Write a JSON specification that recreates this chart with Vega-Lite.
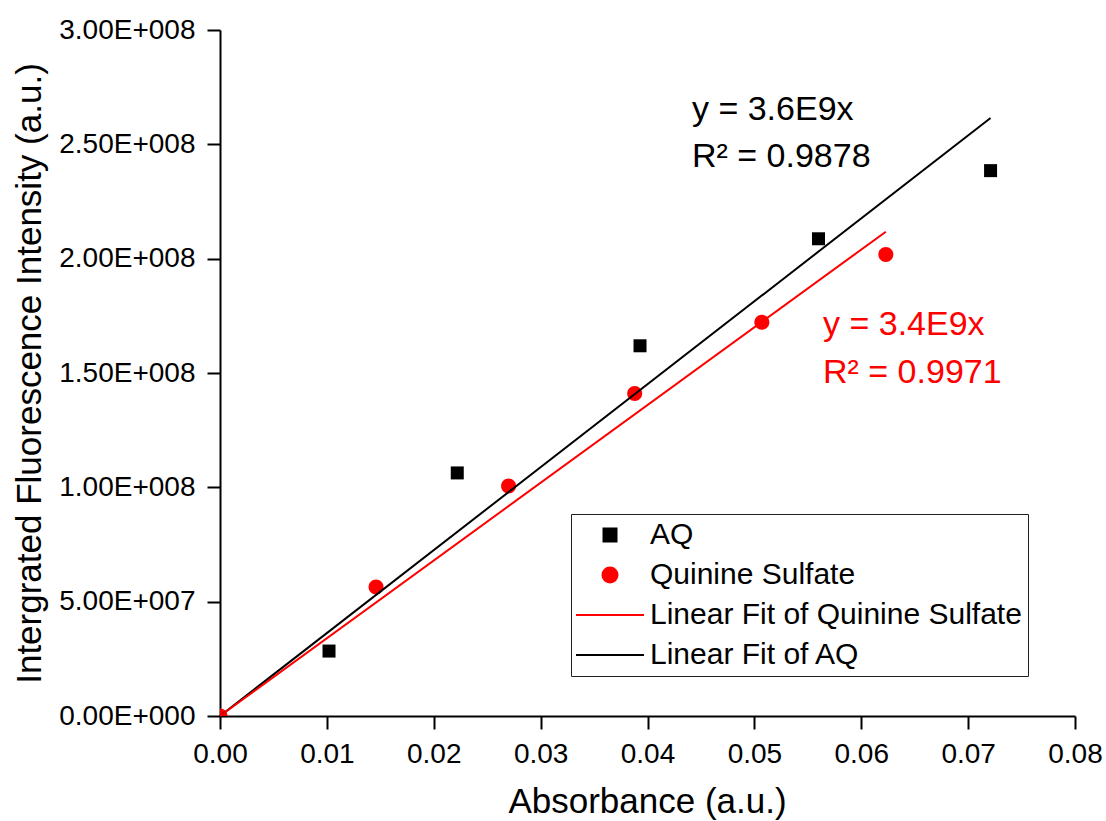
{
  "$schema": "https://vega.github.io/schema/vega-lite/v6.json",
  "width": 855,
  "height": 686,
  "autosize": {"type": "none"},
  "padding": {"left": 220, "top": 30, "right": 31, "bottom": 105},
  "background": "white",
  "datasets": {
    "points": [
      {"series": "AQ", "absorbance": 0.0102, "intensity": 28400000},
      {"series": "AQ", "absorbance": 0.0222, "intensity": 106300000},
      {"series": "AQ", "absorbance": 0.0393, "intensity": 161900000},
      {"series": "AQ", "absorbance": 0.0560, "intensity": 208700000},
      {"series": "AQ", "absorbance": 0.0721, "intensity": 238500000},
      {"series": "Quinine Sulfate", "absorbance": 0.0, "intensity": 0},
      {"series": "Quinine Sulfate", "absorbance": 0.0146, "intensity": 56400000},
      {"series": "Quinine Sulfate", "absorbance": 0.0270, "intensity": 100600000},
      {"series": "Quinine Sulfate", "absorbance": 0.0388, "intensity": 141000000},
      {"series": "Quinine Sulfate", "absorbance": 0.0507, "intensity": 172200000},
      {"series": "Quinine Sulfate", "absorbance": 0.0623, "intensity": 201800000}
    ],
    "fits": [
      {"series": "Linear Fit of AQ", "absorbance": 0.0, "intensity": 0},
      {"series": "Linear Fit of AQ", "absorbance": 0.0721, "intensity": 261500000},
      {"series": "Linear Fit of Quinine Sulfate", "absorbance": 0.0, "intensity": 0},
      {"series": "Linear Fit of Quinine Sulfate", "absorbance": 0.0623, "intensity": 211800000}
    ],
    "notes": [
      {"fit": "AQ", "line1": "y = 3.6E9x", "line2": "R² = 0.9878", "x": 0.04416, "y1": 260600000, "y2": 240100000},
      {"fit": "Quinine Sulfate", "line1": "y = 3.4E9x", "line2": "R² = 0.9971", "x": 0.05642, "y1": 166600000, "y2": 145600000}
    ]
  },
  "layer": [
    {
      "data": {"name": "points"},
      "mark": {"type": "point", "filled": true, "opacity": 1, "size": 100, "clip": true},
      "encoding": {
        "x": {
          "field": "absorbance", "type": "quantitative",
          "scale": {"domain": [0, 0.08], "nice": false, "zero": false},
          "axis": {
            "title": "Absorbance (a.u.)",
            "values": [0, 0.01, 0.02, 0.03, 0.04, 0.05, 0.06, 0.07, 0.08],
            "format": ".2f",
            "labelPadding": 11,
            "titleX": 427, "titleY": 96, "titleAlign": "center", "titleBaseline": "alphabetic", "titleAngle": 0
          }
        },
        "y": {
          "field": "intensity", "type": "quantitative",
          "scale": {"domain": [0, 300000000], "nice": false},
          "axis": {
            "title": "Intergrated Fluorescence Intensity (a.u.)",
            "values": [0, 50000000, 100000000, 150000000, 200000000, 250000000, 300000000],
            "labelExpr": "datum.value == 0 ? '0.00E+000' : (datum.value < 100000000 ? format(datum.value / 10000000, '.2f') + 'E+007' : format(datum.value / 100000000, '.2f') + 'E+008')",
            "labelPadding": 12,
            "titleX": -180, "titleY": 343, "titleAlign": "center", "titleBaseline": "alphabetic", "titleAngle": -90
          }
        },
        "color": {
          "field": "series", "type": "nominal",
          "scale": {
            "domain": ["AQ", "Quinine Sulfate", "Linear Fit of Quinine Sulfate", "Linear Fit of AQ"],
            "range": ["#000000", "#ff0000", "#ff0000", "#000000"]
          },
          "legend": {
            "title": null,
            "orient": "none",
            "legendX": 351,
            "legendY": 484,
            "padding": 6,
            "rowPadding": 10,
            "symbolSize": 100,
            "symbolOffset": 18,
            "labelOffset": 25,
            "labelFont": "Liberation Sans",
            "labelFontSize": 30,
            "labelColor": "#000000",
            "labelLimit": 1000,
            "strokeColor": "#222222",
            "fillColor": "white",
            "symbolStrokeWidth": 2,
            "symbolOpacity": 1,
            "encode": {
              "symbols": {
                "update": {
                  "fill": {"scale": "color", "field": "value"},
                  "stroke": {"scale": "color", "field": "value"},
                  "strokeWidth": {"value": 2},
                  "opacity": {"value": 1}
                }
              }
            }
          }
        },
        "shape": {
          "field": "series", "type": "nominal",
          "scale": {
            "domain": ["AQ", "Quinine Sulfate", "Linear Fit of Quinine Sulfate", "Linear Fit of AQ"],
            "range": [
              "M-1.3,-1.3H1.3V1.3H-1.3Z",
              "M-1.5,0A1.5,1.5,0,1,0,1.5,0A1.5,1.5,0,1,0,-1.5,0Z",
              "M-6.8,0H6.8",
              "M-6.8,0H6.8"
            ]
          },
          "legend": {"title": null}
        }
      }
    },
    {
      "data": {"name": "fits"},
      "mark": {"type": "line", "strokeWidth": 2},
      "encoding": {
        "x": {"field": "absorbance", "type": "quantitative"},
        "y": {"field": "intensity", "type": "quantitative"},
        "color": {"field": "series", "type": "nominal"}
      }
    },
    {
      "data": {"name": "notes"},
      "mark": {"type": "text", "align": "left", "baseline": "alphabetic", "font": "Liberation Sans", "fontSize": 34},
      "encoding": {
        "x": {"field": "x", "type": "quantitative"},
        "y": {"field": "y1", "type": "quantitative"},
        "text": {"field": "line1"},
        "fill": {
          "field": "fit", "type": "nominal",
          "scale": {"domain": ["AQ", "Quinine Sulfate"], "range": ["#000000", "#ff0000"]},
          "legend": null
        }
      }
    },
    {
      "data": {"name": "notes"},
      "mark": {"type": "text", "align": "left", "baseline": "alphabetic", "font": "Liberation Sans", "fontSize": 34},
      "encoding": {
        "x": {"field": "x", "type": "quantitative"},
        "y": {"field": "y2", "type": "quantitative"},
        "text": {"field": "line2"},
        "fill": {
          "field": "fit", "type": "nominal",
          "scale": {"domain": ["AQ", "Quinine Sulfate"], "range": ["#000000", "#ff0000"]},
          "legend": null
        }
      }
    }
  ],
  "config": {
    "view": {"stroke": null},
    "font": "Liberation Sans",
    "axis": {
      "grid": false,
      "domainColor": "#000000",
      "domainWidth": 2,
      "tickColor": "#000000",
      "tickWidth": 2,
      "tickSize": 13,
      "labelFont": "Liberation Sans",
      "labelFontSize": 28,
      "labelColor": "#000000",
      "labelFlush": false,
      "titleFont": "Liberation Sans",
      "titleFontSize": 35,
      "titleFontWeight": "normal",
      "titleColor": "#000000",
      "labelOverlap": false
    }
  }
}
